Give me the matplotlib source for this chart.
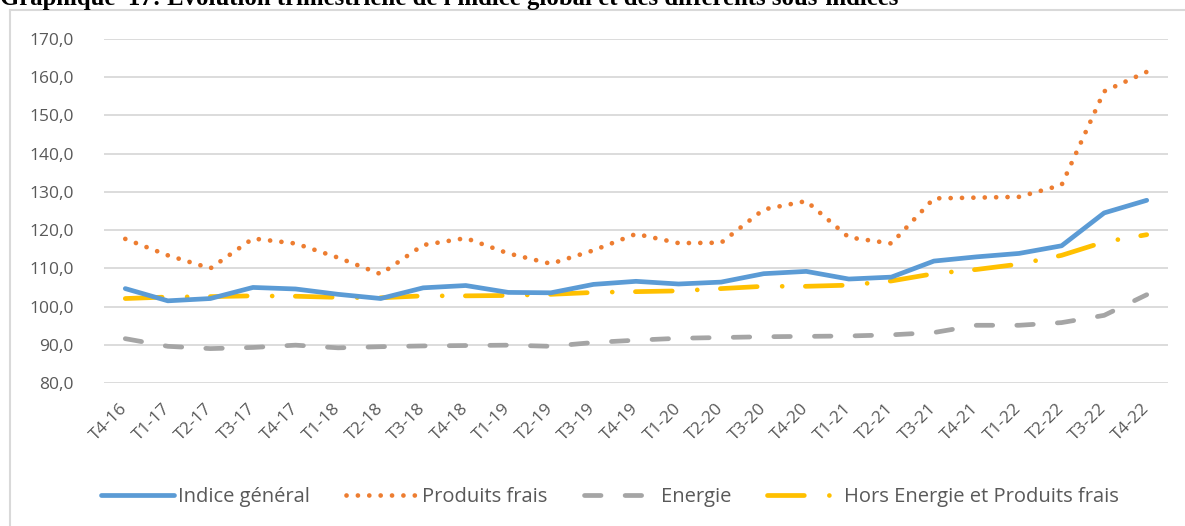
import matplotlib
matplotlib.use("Agg")
import matplotlib.pyplot as plt
from matplotlib.lines import Line2D

categories = ["T4-16", "T1-17", "T2-17", "T3-17", "T4-17", "T1-18", "T2-18", "T3-18", "T4-18",
              "T1-19", "T2-19", "T3-19", "T4-19", "T1-20", "T2-20", "T3-20", "T4-20",
              "T1-21", "T2-21", "T3-21", "T4-21", "T1-22", "T2-22", "T3-22", "T4-22"]

indice_general = [104.7, 101.5, 102.1, 105.0, 104.6, 103.2, 102.1, 104.9, 105.5, 103.7, 103.6, 105.8,
                  106.6, 105.9, 106.4, 108.6, 109.2, 107.2, 107.7, 111.9, 113.0, 113.9, 115.9, 124.5, 127.8]
produits_frais = [117.7, 113.4, 110.0, 117.8, 116.5, 112.8, 108.5, 116.1, 117.9, 113.9, 111.2, 114.7,
                  119.0, 116.6, 116.7, 125.4, 127.6, 118.1, 116.5, 128.3, 128.5, 128.7, 131.8, 156.3, 161.4]
energie = [91.6, 89.6, 89.0, 89.3, 89.9, 89.2, 89.5, 89.7, 89.8, 89.9, 89.6, 90.6,
           91.2, 91.7, 91.9, 92.1, 92.2, 92.3, 92.6, 93.2, 95.1, 95.1, 95.8, 97.7, 103.1]
hors_energie = [102.1, 102.5, 102.6, 102.8, 102.7, 102.4, 102.3, 102.8, 102.8, 102.9, 103.2, 103.7,
                103.9, 104.1, 104.7, 105.3, 105.3, 105.6, 106.7, 108.6, 109.7, 111.1, 113.4, 116.9, 118.8]

yticks = [80, 90, 100, 110, 120, 130, 140, 150, 160, 170]
title = "Graphique  17: Evolution trimestrielle de l'indice global et des différents sous-indices"

W, H = 1185, 526
fig = plt.figure(figsize=(W / 100, H / 100), dpi=100)
ax = fig.add_axes([104 / W, 1 - 383 / H, (1168 - 104) / W, (383 - 39) / H])

font = ["Open Sans", "DejaVu Sans"]
txtc = "#595959"
x = list(range(len(categories)))

lw = 3.4
ax.plot(x, indice_general, color="#5B9BD5", lw=lw, solid_capstyle="round", solid_joinstyle="round",
        label="Indice général", zorder=5)
ax.plot(x, produits_frais, color="#ED7D31", lw=lw, linestyle=(0, (0.01, 2.4)), dash_capstyle="round",
        label="Produits frais", zorder=4)
ax.plot(x, energie, color="#A5A5A5", lw=lw, linestyle=(0, (3.5, 5.1)), dash_capstyle="round",
        label="Energie", zorder=3)
ax.plot(x, hors_energie, color="#FFC000", lw=lw, linestyle=(0, (7.8, 5.3, 0.01, 4.9)), dash_capstyle="round",
        label="Hors Energie et Produits frais", zorder=4)

ax.set_xlim(-0.5, len(categories) - 0.5)
ax.set_ylim(80, 170)
ax.set_yticks(yticks)
ax.set_yticklabels([f"{v:.1f}".replace(".", ",") for v in yticks], fontfamily=font, fontsize=12.5, color=txtc)
ax.set_xticks(x)
ax.set_xticklabels(categories, rotation=45, ha="right", va="center", rotation_mode="anchor",
                   fontfamily=font, fontsize=12.5, color=txtc)
ax.tick_params(axis="both", length=0)
ax.tick_params(axis="y", pad=22)
ax.tick_params(axis="x", pad=17)
ax.grid(axis="y", color="#D9D9D9", lw=1.3)
ax.set_axisbelow(True)
for s in ax.spines.values():
    s.set_visible(False)

# chart frame
fig.add_artist(Line2D([10 / W, 10 / W], [0, 1 - 10 / H], color="#D9D9D9", lw=1.5))
fig.add_artist(Line2D([10 / W, 1], [1 - 10 / H, 1 - 10 / H], color="#D9D9D9", lw=1.5))

fig.text(0.0, 1 - 5 / H, title, fontfamily="Liberation Serif", fontweight="bold", fontsize=17.8,
         va="baseline", ha="left", color="#000000")

leg = fig.legend(loc="center", bbox_to_anchor=(610 / W, 1 - 497 / H), ncol=4, frameon=False,
                 prop={"family": font, "size": 14.5}, handlelength=3.6, handletextpad=0.2,
                 columnspacing=1.8, labelcolor=txtc)

fig.savefig("out.png", dpi=100)
